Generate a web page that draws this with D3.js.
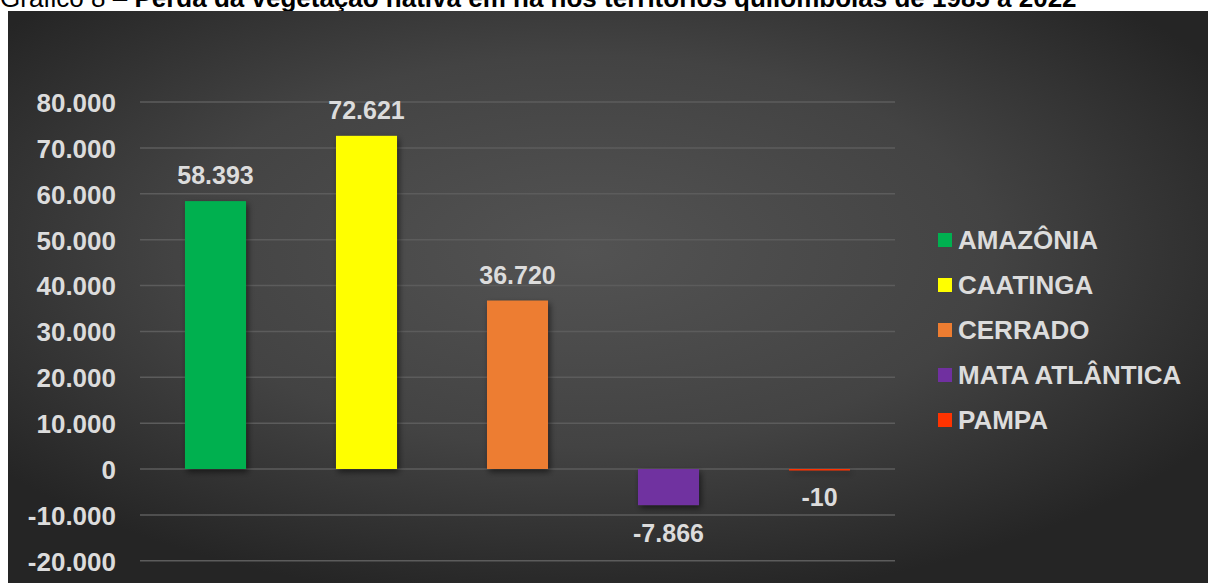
<!DOCTYPE html>
<html>
<head>
<meta charset="utf-8">
<script src="https://cdn.jsdelivr.net/npm/d3@7/dist/d3.min.js"></script>
<style>
  html, body { margin: 0; padding: 0; background: #ffffff; }
  svg { display: block; }
  text { font-family: "Liberation Sans", Arial, Helvetica, sans-serif; }
</style>
</head>
<body>
<svg id="chart" width="1208" height="583"></svg>
<script>
// ---- Data ----
const categories = ["AMAZÔNIA", "CAATINGA", "CERRADO", "MATA ATLÂNTICA", "PAMPA"];
const values = [58393, 72621, 36720, -7866, -10];
const tickValues = [-20000, -10000, 0, 10000, 20000, 30000, 40000, 50000, 60000, 70000, 80000];
const titlePrefix = "Gráfico 8 – ";
const titleMain = "Perda da vegetação nativa em ha nos territórios quilombolas de 1985 a 2022";

// ---- Styles ----
const colors = ["#00b050", "#ffff00", "#ed7d31", "#7030a0", "#ff3300"];
const textColor = "#dcdcdc";

const locale = d3.formatLocale({ decimal: ",", thousands: ".", grouping: [3], currency: ["R$", ""], minus: "-" });
const fmt = locale.format(",d");

const svg = d3.select("#chart");
const W = 1208, H = 583;

const defs = svg.append("defs");
const grad = defs.append("radialGradient")
  .attr("id", "bg").attr("cx", "48%").attr("cy", "42%").attr("r", "62%");
grad.append("stop").attr("offset", "0%").attr("stop-color", "#535353");
grad.append("stop").attr("offset", "55%").attr("stop-color", "#434343");
grad.append("stop").attr("offset", "100%").attr("stop-color", "#252525");

const shadow = defs.append("filter").attr("id", "shadow")
  .attr("x", "-30%").attr("y", "-30%").attr("width", "160%").attr("height", "160%");
shadow.append("feDropShadow").attr("dx", 2).attr("dy", 3).attr("stdDeviation", 3)
  .attr("flood-color", "#000").attr("flood-opacity", 0.55);

// Title (partly clipped at top, as in reference)
const title = svg.append("text").attr("x", 0).attr("y", 7)
  .attr("font-size", 26).attr("fill", "#000");
title.append("tspan").text(titlePrefix);
title.append("tspan").attr("font-weight", "bold").text(titleMain);

// Background
svg.append("rect").attr("x", 8).attr("y", 11).attr("width", W - 8).attr("height", H - 11)
  .attr("fill", "url(#bg)");

// Scales
const y = d3.scaleLinear().domain([0, 80000]).range([469, 102]);
const x = d3.scaleBand().domain(categories).range([140, 895])
  .paddingInner(0.596).paddingOuter(0.298);

// Gridlines
svg.append("g").selectAll("line").data(tickValues).join("line")
  .attr("x1", 140).attr("x2", 895)
  .attr("y1", d => y(d)).attr("y2", d => y(d))
  .attr("stroke", "#5c5c5c").attr("stroke-width", 1.5);

// Y axis labels
const yAxis = d3.axisLeft(y).tickValues(tickValues).tickFormat(fmt).tickSize(0).tickPadding(0);
const ag = svg.append("g").attr("transform", "translate(116,0)").call(yAxis);
ag.select(".domain").remove();
ag.selectAll("text")
  .attr("fill", textColor).attr("font-size", 26).attr("font-weight", "bold")
  .attr("font-family", "'Liberation Sans', Arial, sans-serif")
  .attr("dy", "0.36em");

// Bars
svg.append("g").attr("filter", "url(#shadow)").selectAll("rect")
  .data(categories.map((c, i) => ({ c, v: values[i], col: colors[i] })))
  .join("rect")
  .attr("x", d => x(d.c))
  .attr("width", x.bandwidth())
  .attr("y", d => Math.min(y(d.v), y(0)))
  .attr("height", d => Math.max(Math.abs(y(d.v) - y(0)), 1.5))
  .attr("fill", d => d.col);

// Value labels
svg.append("g").selectAll("text")
  .data(categories.map((c, i) => ({ c, v: values[i] })))
  .join("text")
  .attr("x", d => x(d.c) + x.bandwidth() / 2)
  .attr("y", d => d.v >= 0 ? y(d.v) - 17 : y(d.v) + 37)
  .attr("text-anchor", "middle")
  .attr("fill", textColor).attr("font-size", 25).attr("font-weight", "bold")
  .text(d => fmt(d.v));

// Legend
const leg = svg.append("g").selectAll("g")
  .data(categories.map((c, i) => ({ c, col: colors[i], i })))
  .join("g")
  .attr("transform", d => `translate(938,${240 + d.i * 45})`);
leg.append("rect").attr("x", 0).attr("y", -7).attr("width", 14).attr("height", 14)
  .attr("fill", d => d.col);
leg.append("text").attr("x", 20).attr("y", 0).attr("dy", "0.36em")
  .attr("fill", textColor).attr("font-size", 26).attr("font-weight", "bold")
  .text(d => d.c);
</script>
</body>
</html>
